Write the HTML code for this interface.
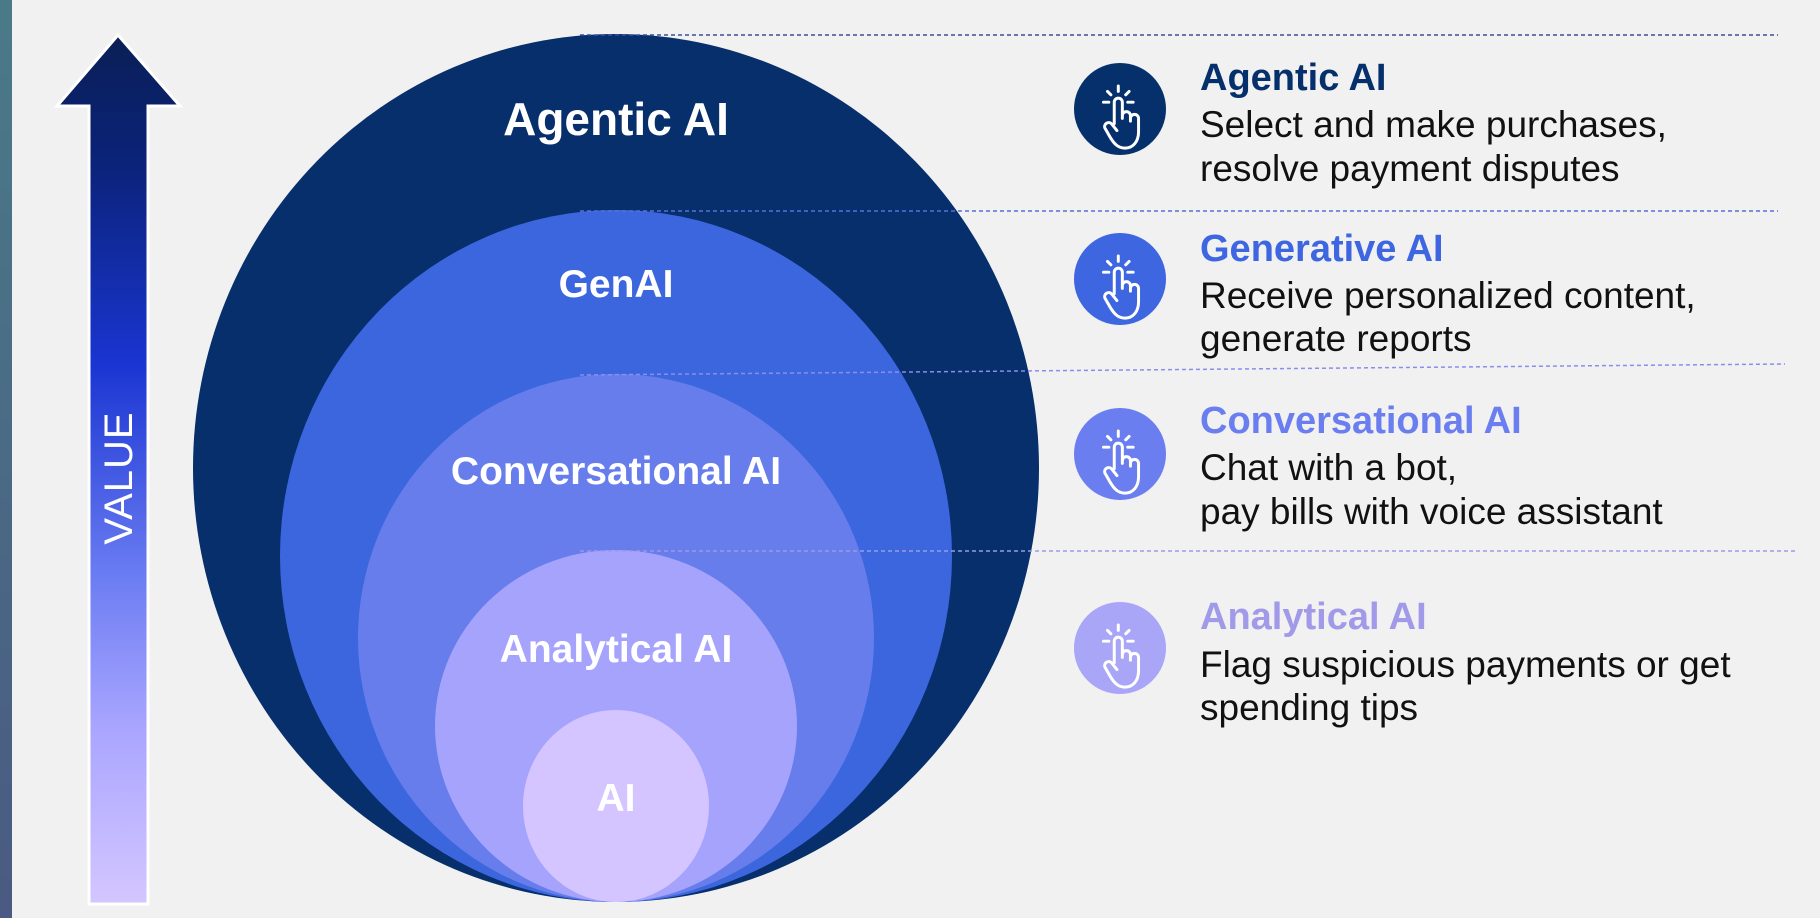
<!DOCTYPE html>
<html><head><meta charset="utf-8"><style>
html,body{margin:0;padding:0;background:#f1f1f1;}
svg{display:block;}
text{font-family:"Liberation Sans",sans-serif;}
</style></head><body>
<svg width="1820" height="918" viewBox="0 0 1820 918" xmlns="http://www.w3.org/2000/svg">
<defs>
<linearGradient id="strip" x1="0" y1="0" x2="0" y2="1"><stop offset="0" stop-color="#4a7a88"/><stop offset="1" stop-color="#4a5a82"/></linearGradient>
<linearGradient id="arr" x1="0" y1="0" x2="0" y2="1">
<stop offset="0" stop-color="#0a1f55"/><stop offset="0.15" stop-color="#0b237a"/><stop offset="0.38" stop-color="#1a35d2"/><stop offset="0.62" stop-color="#6a7cf2"/><stop offset="0.8" stop-color="#aaa6ff"/><stop offset="1" stop-color="#d4c6ff"/></linearGradient>
<g id="hand" fill="none" stroke="#fff" stroke-width="2.2" stroke-linecap="round" stroke-linejoin="round">
<path d="M-5 8 V-8 a3 3 0 0 1 6 0 V4 M1 2 a3 3 0 0 1 6 0 V6 M7 4 a3 3 0 0 1 6 0 V14 c0 7 -4 12 -10 12 c-5 0 -8 -3 -11 -8 l-4 -7 a3 3 0 0 1 5 -3 l4 5"/>
<path d="M-2 -20 V-16 M-10 -16 l2.5 2.5 M6 -16 l-2.5 2.5 M-13 -8 h4 M5 -8 h4"/>
</g>
</defs>
<rect x="0" y="0" width="12" height="918" fill="url(#strip)"/>
<polygon points="118,35 180,106 148,106 148,904 89,904 89,106 57,106" fill="url(#arr)" stroke="#fff" stroke-width="3"/>
<text x="0" y="0" transform="translate(132,478) rotate(-90)" font-size="40" fill="#fff" text-anchor="middle" letter-spacing="1">VALUE</text>

<ellipse cx="616" cy="468" rx="423" ry="434" fill="#062f6b"/>
<ellipse cx="616" cy="556" rx="336" ry="346" fill="#3c66de"/>
<ellipse cx="616" cy="638" rx="258" ry="264" fill="#667deb"/>
<ellipse cx="616" cy="726" rx="181" ry="176" fill="#a6a3fd"/>
<ellipse cx="616" cy="806" rx="93" ry="96" fill="#d4c4ff"/>

<g fill="#fff" font-weight="bold" text-anchor="middle">
<text x="616" y="135" font-size="46">Agentic AI</text>
<text x="616" y="297" font-size="39">GenAI</text>
<text x="616" y="484" font-size="39">Conversational AI</text>
<text x="616" y="662" font-size="39">Analytical AI</text>
<text x="616" y="811" font-size="39">AI</text>
</g>

<g stroke-width="1.5" stroke-dasharray="4,3" fill="none">
<line x1="580" y1="35" x2="1778" y2="35" stroke="#3a4f9a"/>
<line x1="580" y1="211" x2="1778" y2="211" stroke="#5570d8"/>
<line x1="580" y1="375" x2="1785" y2="364" stroke="#8a8cee"/>
<line x1="580" y1="551" x2="1798" y2="551" stroke="#9a9ae8"/>
</g>

<circle cx="1120" cy="109" r="46" fill="#06306b"/><use href="#hand" transform="translate(1121,113) scale(1.35)"/>
<circle cx="1120" cy="279" r="46" fill="#3d66e0"/><use href="#hand" transform="translate(1121,283) scale(1.35)"/>
<circle cx="1120" cy="454" r="46" fill="#6a7ef0"/><use href="#hand" transform="translate(1121,458) scale(1.35)"/>
<circle cx="1120" cy="648" r="46" fill="#a9a6f8"/><use href="#hand" transform="translate(1121,652) scale(1.35)"/>

<g font-size="37" fill="#111">
<text x="1200" y="90" font-size="38" font-weight="bold" fill="#06306b">Agentic AI</text>
<text x="1200" y="137">Select and make purchases,</text>
<text x="1200" y="181">resolve payment disputes</text>
<text x="1200" y="261" font-size="38" font-weight="bold" fill="#3d66e0">Generative AI</text>
<text x="1200" y="308">Receive personalized content,</text>
<text x="1200" y="351">generate reports</text>
<text x="1200" y="433" font-size="38" font-weight="bold" fill="#6a7ef0">Conversational AI</text>
<text x="1200" y="480">Chat with a bot,</text>
<text x="1200" y="524">pay bills with voice assistant</text>
<text x="1200" y="629" font-size="38" font-weight="bold" fill="#a09ae8">Analytical AI</text>
<text x="1200" y="677">Flag suspicious payments or get</text>
<text x="1200" y="720">spending tips</text>
</g>
</svg>
</body></html>
